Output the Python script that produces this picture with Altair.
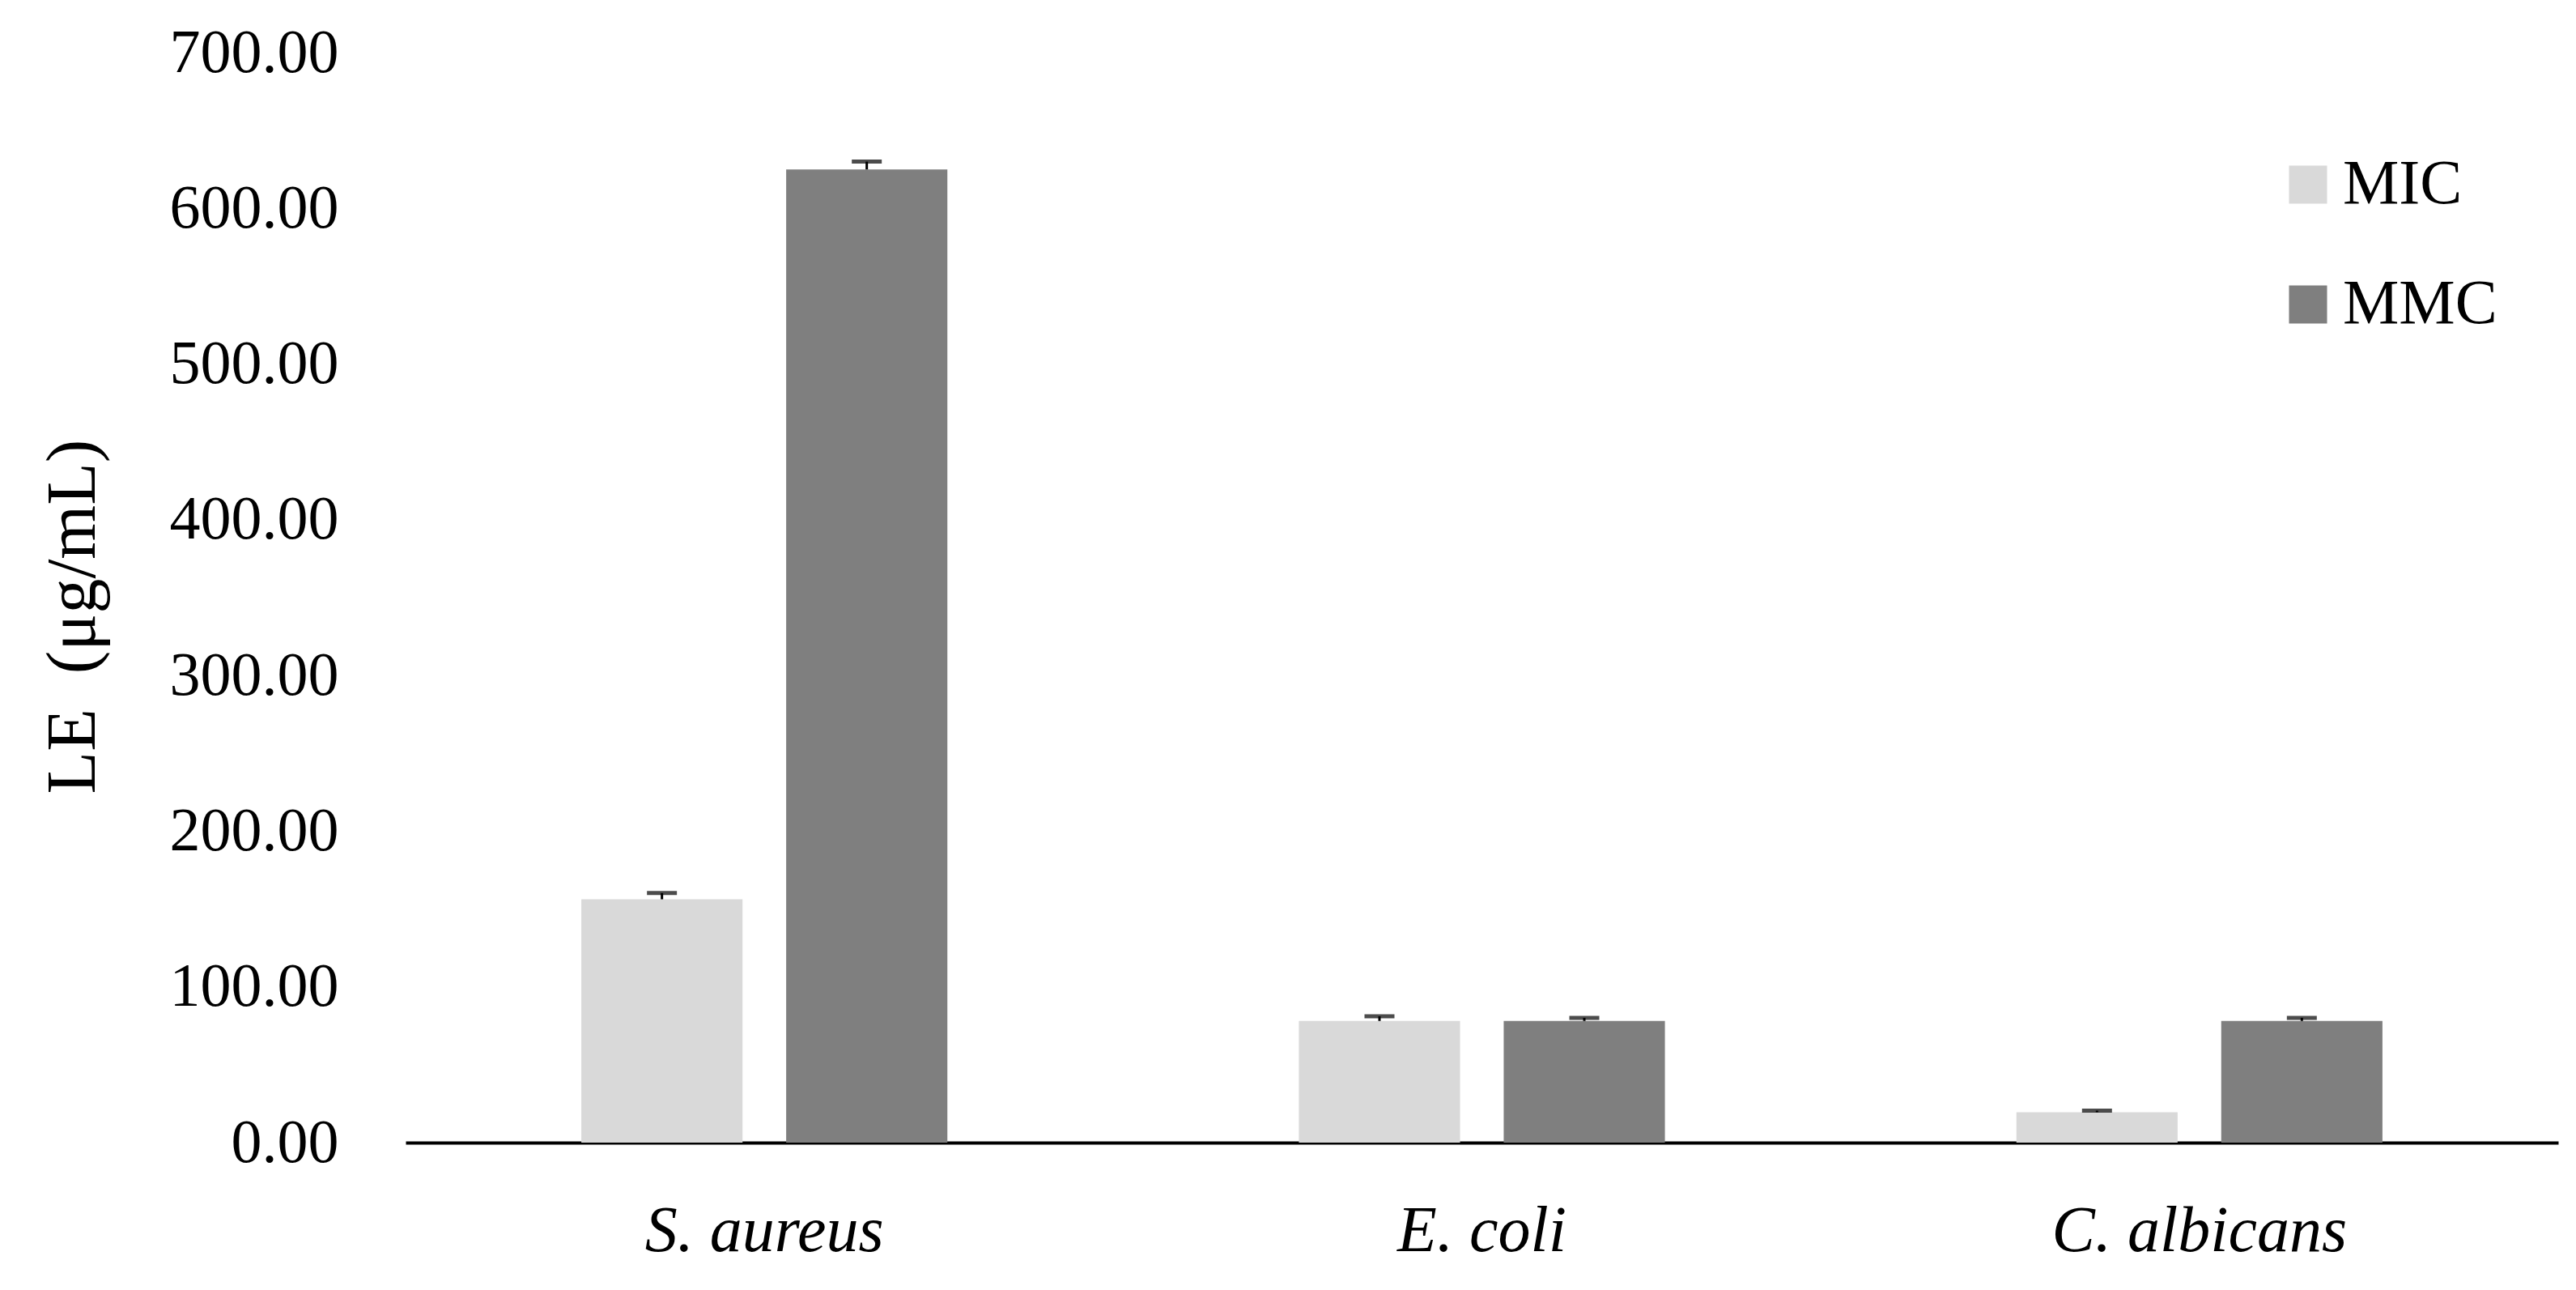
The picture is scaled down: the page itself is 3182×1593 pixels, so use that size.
import altair as alt
import pandas as pd

organisms = ["S. aureus", "E. coli", "C. albicans"]
series = ["MIC", "MMC"]
mic_values = [156.25, 78.125, 19.53]
mmc_values = [625.0, 78.125, 78.125]
mic_errors = [4.0, 3.0, 1.0]
mmc_errors = [5.0, 2.0, 2.0]
y_ticks = [0, 100, 200, 300, 400, 500, 600, 700]
colors = ["#d9d9d9", "#7f7f7f"]

rows = []
for i, org in enumerate(organisms):
    rows.append({"organism": org, "series": "MIC", "value": mic_values[i], "upper": mic_values[i] + mic_errors[i]})
    rows.append({"organism": org, "series": "MMC", "value": mmc_values[i], "upper": mmc_values[i] + mmc_errors[i]})
df = pd.DataFrame(rows)

FONT = "Liberation Serif"

x_enc = alt.X("organism:N", sort=organisms,
              scale=alt.Scale(paddingInner=0, paddingOuter=0),
              axis=alt.Axis(title=None, labelFontStyle="italic", labelAngle=0,
                            labelFont=FONT, labelFontSize=80, labelColor="black",
                            labelLimit=0,
                            ticks=False, domainColor="black", domainWidth=4,
                            labelPadding=70))
xo_enc = alt.XOffset("series:N", sort=series,
                     scale=alt.Scale(paddingInner=0.213, paddingOuter=0.858))
y_scale = alt.Scale(domain=[0, 700], nice=False)

bars = alt.Chart(df).mark_bar().encode(
    x=x_enc,
    xOffset=xo_enc,
    y=alt.Y("value:Q", scale=y_scale,
            axis=alt.Axis(values=y_ticks, format=".2f", title="LE\u00a0\u00a0(μg/mL)",
                          grid=False, domain=False, ticks=False,
                          labelFont=FONT, labelFontSize=76, labelColor="black",
                          labelPadding=83, labelLimit=0,
                          titleFont=FONT, titleFontSize=86, titleFontWeight="normal",
                          titleColor="black", titleAngle=-90,
                          titleX=-411, titleY=696, titleAlign="center",
                          titleBaseline="middle", titleLimit=0)),
    color=alt.Color("series:N", sort=series,
                    scale=alt.Scale(domain=series, range=colors),
                    legend=alt.Legend(title=None, orient="none", legendX=2311, legendY=124,
                                      symbolType="square", symbolSize=2209,
                                      symbolStrokeWidth=0, labelFont=FONT,
                                      labelFontSize=78, labelColor="black",
                                      labelOffset=4, rowPadding=70, padding=0,
                                      labelLimit=0)),
)

stems = alt.Chart(df).mark_rule(color="black", strokeWidth=3).encode(
    x=alt.X("organism:N", sort=organisms),
    xOffset=alt.XOffset("series:N", sort=series),
    y=alt.Y("value:Q", scale=y_scale),
    y2="upper:Q",
)

caps = alt.Chart(df).mark_tick(color="black", thickness=5, size=37, orient="horizontal").encode(
    x=alt.X("organism:N", sort=organisms),
    xOffset=alt.XOffset("series:N", sort=series),
    y=alt.Y("upper:Q", scale=y_scale),
)

chart = alt.layer(bars, stems, caps).properties(
    width=2659, height=1346,
    autosize=alt.AutoSizeParams(type="none"),
    padding={"left": 493, "top": 57, "right": 10, "bottom": 160},
).configure(background="white").configure_view(stroke=None, strokeWidth=0)

chart.save("out.html", embed_options={"renderer": "svg", "actions": False})
